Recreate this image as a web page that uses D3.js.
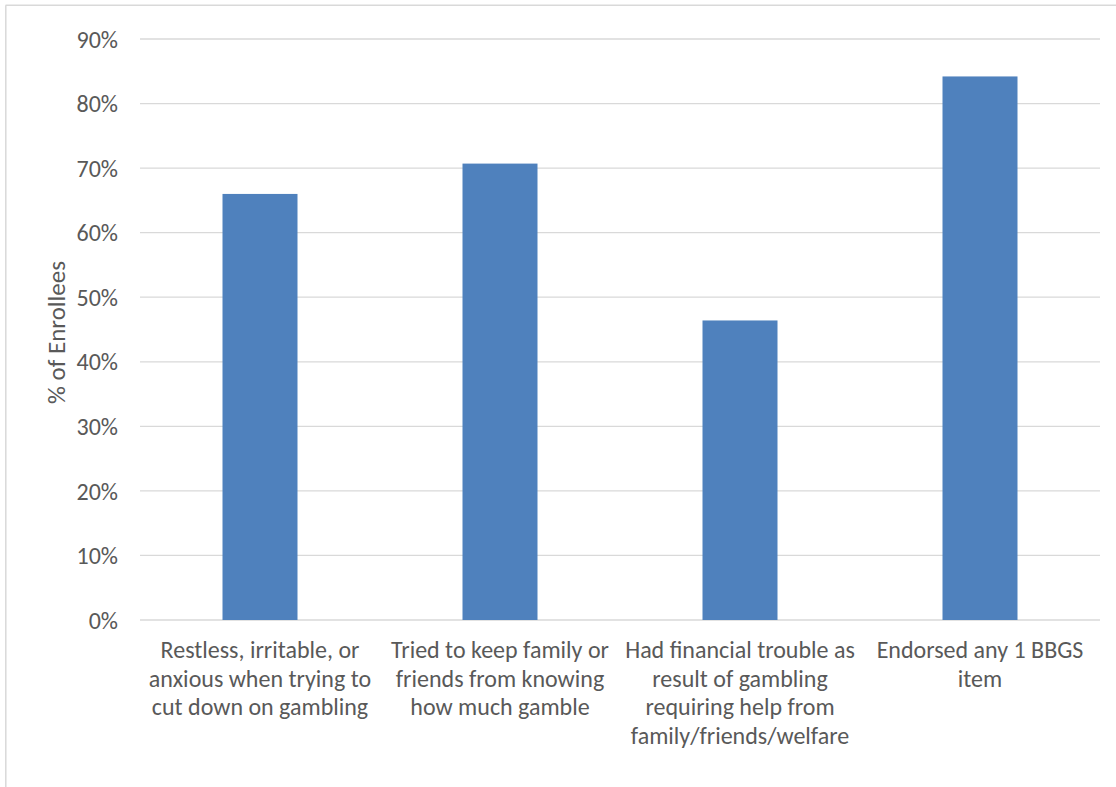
<!DOCTYPE html>
<html>
<head>
<meta charset="utf-8">
<script src="https://cdn.jsdelivr.net/npm/d3@7"></script>
<style>
  html, body { margin: 0; padding: 0; background: #fff; }
  svg { display: block; }
  text { font-family: Carlito, Lato, "Open Sans", sans-serif; fill: #595959; }
</style>
</head>
<body>
<svg id="chart" width="1116" height="787"></svg>
<script>
const categories = [
  ["Restless, irritable, or", "anxious when trying to", "cut down on gambling"],
  ["Tried to keep family or", "friends from knowing", "how much gamble"],
  ["Had financial trouble as", "result of gambling", "requiring help from", "family/friends/welfare"],
  ["Endorsed any 1 BBGS", "item"]
];
const values = [0.66, 0.707, 0.464, 0.842];
const tickValues = [0, 0.1, 0.2, 0.3, 0.4, 0.5, 0.6, 0.7, 0.8, 0.9];
const yAxisTitle = "% of Enrollees";

const svg = d3.select("#chart");
const mLeft = 140, mRight = 1100, mTop = 39, mBottom = 620;

// chart frame (partially visible border)
svg.append("line").attr("x1", 5.5).attr("x2", 1116).attr("y1", 5.3).attr("y2", 5.3)
  .attr("stroke", "#D9D9D9").attr("stroke-width", 1.5);
svg.append("line").attr("x1", 5.8).attr("x2", 5.8).attr("y1", 5.3).attr("y2", 787)
  .attr("stroke", "#D9D9D9").attr("stroke-width", 1.5);

const x = d3.scaleBand().domain(d3.range(categories.length))
  .range([mLeft, mRight]).paddingInner(0.6875).paddingOuter(0.34375);
const y = d3.scaleLinear().domain([0, 0.9]).range([mBottom, mTop]);

// gridlines
svg.append("g").selectAll("line").data(tickValues).join("line")
  .attr("x1", mLeft).attr("x2", mRight)
  .attr("y1", d => y(d)).attr("y2", d => y(d))
  .attr("stroke", "#D9D9D9").attr("stroke-width", 1.3);

// y tick labels
svg.append("g").selectAll("text").data(tickValues).join("text")
  .attr("x", 118).attr("y", d => y(d)).attr("dy", "0.36em")
  .attr("text-anchor", "end").attr("font-size", 24)
  .text(d => d3.format(".0%")(d));

// bars
svg.append("g").selectAll("rect").data(values).join("rect")
  .attr("x", (d, i) => x(i)).attr("width", x.bandwidth())
  .attr("y", d => y(d)).attr("height", d => y(0) - y(d))
  .attr("fill", "#4F81BD");

// category labels
const cat = svg.append("g").selectAll("text").data(categories).join("text")
  .attr("text-anchor", "middle").attr("font-size", 24)
  .attr("x", (d, i) => x(i) + x.bandwidth() / 2);
cat.selectAll("tspan").data(d => d).join("tspan")
  .attr("x", function() { return this.parentNode.getAttribute("x"); })
  .attr("y", (d, j) => 658 + j * 28.5)
  .text(d => d);

// y axis title
svg.append("text")
  .attr("transform", `translate(65,${(mTop + mBottom) / 2 + 3}) rotate(-90)`)
  .attr("text-anchor", "middle").attr("font-size", 25)
  .text(yAxisTitle);
</script>
</body>
</html>
